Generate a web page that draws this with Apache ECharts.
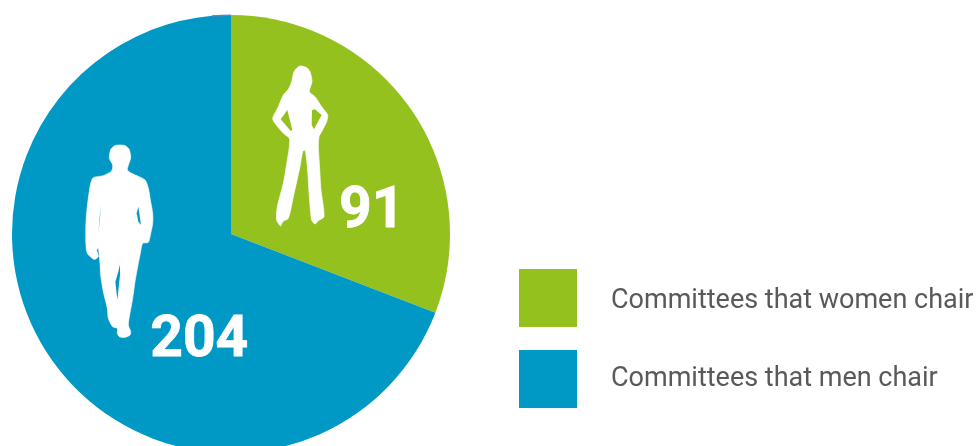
<!DOCTYPE html>
<html><head><meta charset="utf-8">
<style>html,body{margin:0;padding:0;background:#fff}#c{width:976px;height:446px}</style>
<script src="https://cdn.jsdelivr.net/npm/echarts@6/dist/echarts.min.js"></script>
</head><body><div id="c"></div>
<script>
const categories = ['Committees that women chair', 'Committees that men chair'];
const values = [91, 204];
const colors = ['#95c11f', '#0099c6'];
const offsets = [[48, 42], [61, 44]];
const otherSliver = [1, 71];

const womanOutline = [[155,48],[172,54],[181,68],[186,95],[178,125],[195,140],[215,170],[233,195],[230,215],[215,245],[207,260],[205,290],[208,340],[213,420],[222,500],[205,512],[195,522],[185,510],[178,440],[172,350],[165,300],[158,305],[150,350],[130,440],[115,505],[98,515],[92,528],[80,510],[82,470],[100,400],[112,330],[118,290],[118,265],[100,250],[75,220],[68,205],[85,170],[100,135],[115,118],[125,95],[132,65],[145,50]];
const womanHoles = [[[112,180],[92,208],[122,243],[127,240]], [[186,180],[195,178],[215,195],[192,238],[185,225]]];
const manOutline = [[150,30],[165,32],[177,42],[182,68],[176,88],[172,105],[185,115],[225,135],[235,160],[241,195],[248,235],[248,265],[241,300],[235,322],[218,325],[212,350],[205,385],[195,440],[188,490],[178,545],[175,570],[182,590],[180,600],[165,607],[148,605],[142,595],[142,580],[128,575],[115,550],[112,520],[100,470],[92,420],[90,385],[85,340],[80,345],[85,365],[72,373],[52,355],[48,330],[48,260],[55,190],[68,130],[100,122],[125,108],[128,90],[118,70],[123,42],[135,32]];
const manHoles = [[[205,215],[200,235],[205,260],[213,270]], [[92,210],[90,250],[85,298]], [[150,388],[145,410],[136,440],[142,495],[150,420]]];

function figure(outline, holes, x, y, holeColor) {
  const base = {type: 'polygon', x, y, scaleX: 1/3, scaleY: 1/3, silent: true};
  return [
    Object.assign({}, base, {z: 10, shape: {points: outline, smooth: 0.25}, style: {fill: '#fff', stroke: '#fff', lineWidth: 2}})
  ].concat(holes.map(h => Object.assign({}, base, {z: 11, shape: {points: h}, style: {fill: holeColor}})));
}

const chart = echarts.init(document.getElementById('c'), null, {renderer: 'canvas'});
chart.setOption({
  animation: false,
  backgroundColor: '#fff',
  legend: {
    data: categories,
    orient: 'vertical',
    left: 519,
    top: 269,
    padding: 0,
    itemWidth: 58,
    itemHeight: 58,
    itemGap: 23,
    icon: 'rect',
    selectedMode: false,
    formatter: n => (n === categories[0] ? '{a|' : '{b|') + n + '}',
    textStyle: {
      rich: {
        a: {fontFamily: 'Roboto', fontSize: 27, color: '#58595b', padding: [6, 0, 0, 29]},
        b: {fontFamily: 'Roboto', fontSize: 27, color: '#58595b', padding: [0, 0, 0, 29]}
      }
    }
  },
  series: [{
    type: 'pie',
    center: [231, 234],
    radius: [0, 219],
    startAngle: 90,
    clockwise: true,
    silent: true,
    labelLine: {show: false},
    data: categories.map((name, i) => ({
      name,
      value: values[i],
      itemStyle: {color: colors[i]},
      label: {
        show: true,
        position: 'inside',
        formatter: '{c}',
        offset: offsets[i],
        fontFamily: 'Roboto',
        fontWeight: 'bold',
        fontSize: 57,
        color: '#fff',
        textBorderColor: '#fff',
        textBorderWidth: 0.8
      }
    }))
  }, {
    type: 'pie',
    center: [231, 234],
    radius: [218, 219.5],
    startAngle: 90,
    clockwise: false,
    silent: true,
    z: 3,
    label: {show: false},
    labelLine: {show: false},
    data: [
      {name: 'Other', value: otherSliver[0], itemStyle: {color: '#6a7fc0'}},
      {name: 'Rest', value: otherSliver[1], itemStyle: {color: 'rgba(0,0,0,0)'}}
    ]
  }],
  graphic: figure(womanOutline, womanHoles, 250, 50, colors[0]).concat(figure(manOutline, manHoles, 70, 135, colors[1]))
});
</script></body></html>
